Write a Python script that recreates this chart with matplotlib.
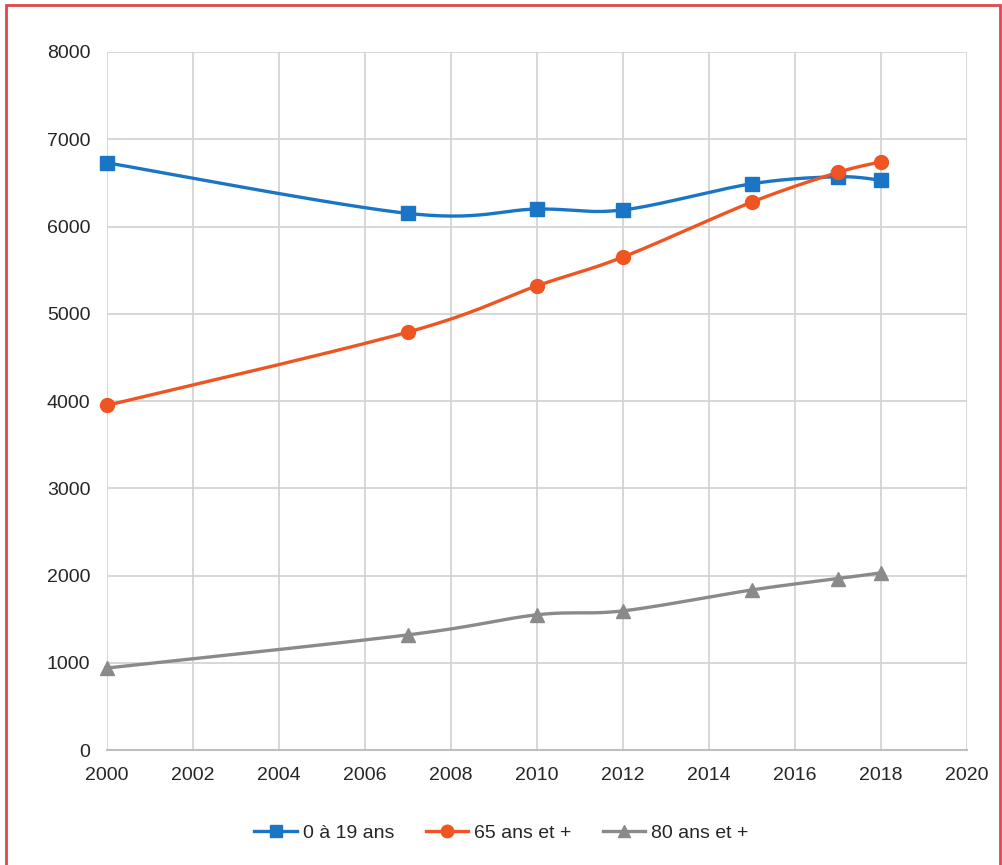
import numpy as np
import matplotlib
matplotlib.use("Agg")
import matplotlib.pyplot as plt
from matplotlib.patches import Rectangle

plt.rcParams['font.family'] = ['Liberation Sans Narrow', 'Liberation Sans', 'DejaVu Sans']

years = [2000, 2007, 2010, 2012, 2015, 2017, 2018]
jeunes = [6730, 6150, 6200, 6190, 6490, 6570, 6530]
seniors65 = [3950, 4790, 5320, 5650, 6280, 6620, 6740]
seniors80 = [940, 1320, 1550, 1595, 1835, 1965, 2030]
labels = ['0 à 19 ans', '65 ans et +', '80 ans et +']
colors = ['#1B75C6', '#EE5522', '#8A8A8A']
markers = ['s', 'o', '^']
xticks = list(range(2000, 2021, 2))
yticks = list(range(0, 8001, 1000))


def smooth(x, y, n=30):
    x = np.asarray(x, float)
    y = np.asarray(y, float)
    px = np.concatenate([[x[0]], x, [x[-1]]])
    py = np.concatenate([[y[0]], y, [y[-1]]])
    xs, ys = [], []
    t = np.linspace(0, 1, n)
    for i in range(len(x) - 1):
        p0 = np.array([px[i + 1], py[i + 1]])
        p3 = np.array([px[i + 2], py[i + 2]])
        c1 = p0 + (np.array([px[i + 2], py[i + 2]]) - np.array([px[i], py[i]])) / 6
        c2 = p3 - (np.array([px[i + 3], py[i + 3]]) - np.array([px[i + 1], py[i + 1]])) / 6
        b = ((1 - t) ** 3)[:, None] * p0 + (3 * (1 - t) ** 2 * t)[:, None] * c1 \
            + (3 * (1 - t) * t ** 2)[:, None] * c2 + (t ** 3)[:, None] * p3
        xs.extend(b[:, 0])
        ys.extend(b[:, 1])
    return xs, ys


fig = plt.figure(figsize=(10.03, 8.65), dpi=100)
ax = fig.add_axes([0.1067, 0.1329, 0.8573, 0.807])

for series, lab, col, mk in zip([jeunes, seniors65, seniors80], labels, colors, markers):
    sx, sy = smooth(years, series)
    ax.plot(sx, sy, color=col, lw=2.4, zorder=3, clip_on=False)
    ax.plot(years, series, linestyle='none', marker=mk, color=col, markersize=10,
            zorder=4, clip_on=False)
    ax.plot([], [], color=col, lw=2.4, marker=mk, markersize=9, label=lab)

ax.set_xlim(2000, 2020)
ax.set_ylim(0, 8000)
ax.set_xticks(xticks)
ax.set_yticks(yticks)
ax.grid(True, color='#D4D4D4', lw=1.3)
ax.set_axisbelow(True)
for s in ['top', 'right', 'left']:
    ax.spines[s].set_visible(False)
ax.spines['bottom'].set_color('#BFBFBF')
ax.spines['bottom'].set_linewidth(1.5)
ax.tick_params(length=0, labelsize=14, colors='#262626', pad=12)

fig.legend(loc='center', bbox_to_anchor=(0.5, 0.037), ncol=3, frameon=False,
           fontsize=14, handlelength=2.2, columnspacing=1.6, handletextpad=0.3,
           labelcolor='#262626')

fig.add_artist(Rectangle((0.006, -0.01), 0.991, 1.004, transform=fig.transFigure,
                         fill=False, edgecolor='#E0474C', lw=2))

fig.savefig('out.png', dpi=100)
